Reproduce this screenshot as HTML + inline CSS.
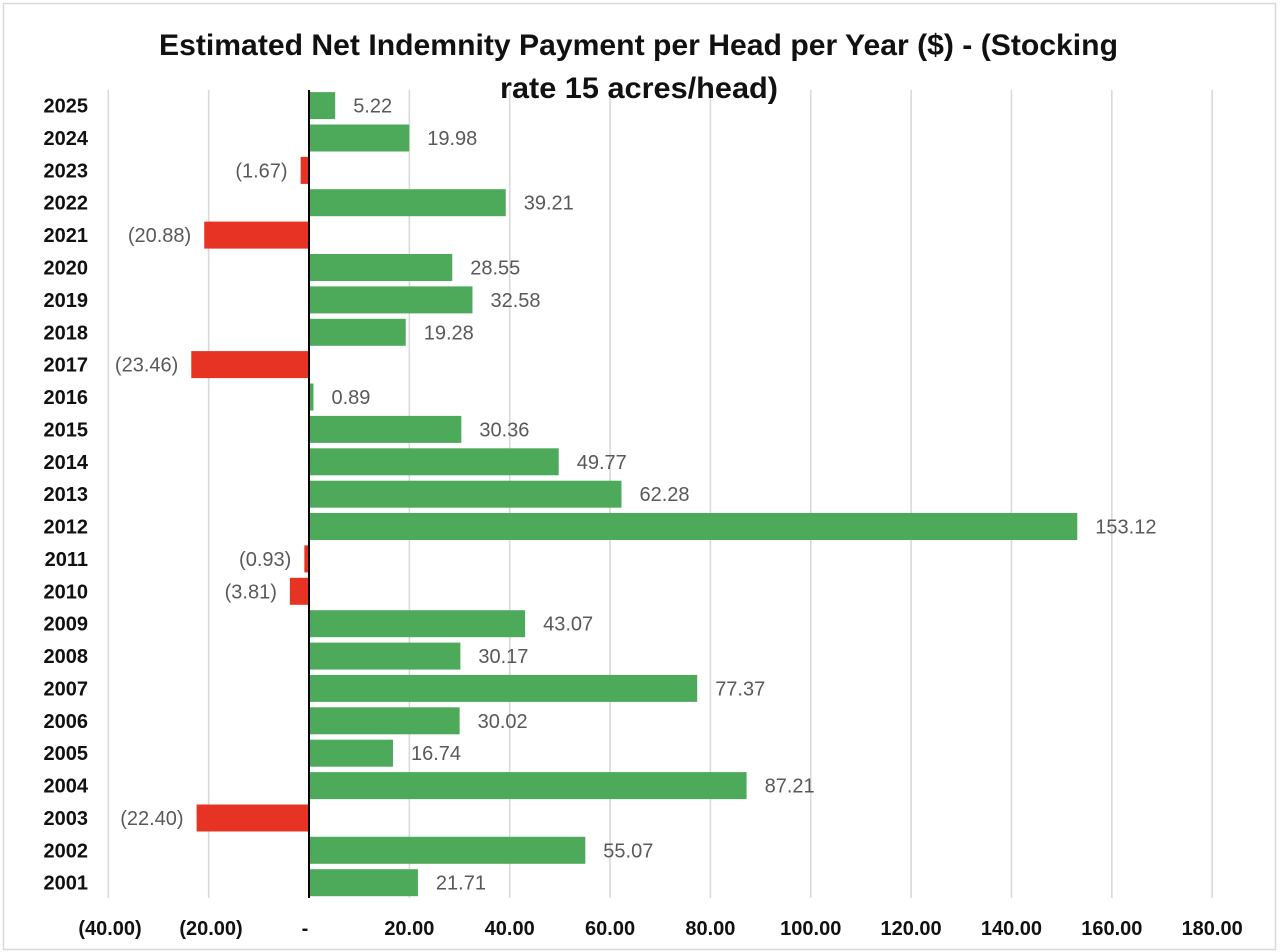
<!DOCTYPE html>
<html>
<head>
<meta charset="utf-8">
<style>
  html, body { margin: 0; padding: 0; background: #ffffff; }
  svg { display: block; }
</style>
</head>
<body>
<svg width="1284" height="952" viewBox="0 0 1284 952" xmlns="http://www.w3.org/2000/svg">
  <rect x="0" y="0" width="1284" height="952" fill="#ffffff"/>
  <rect x="3.5" y="3.5" width="1272" height="946" fill="#ffffff" stroke="#d9d9d9" stroke-width="1.5"/>

  <!-- Gridlines -->
  <g stroke="#d9d9d9" stroke-width="1.6">
    <line x1="108.3" y1="90" x2="108.3" y2="898"/>
    <line x1="208.65" y1="90" x2="208.65" y2="898"/>
    <line x1="409.35" y1="90" x2="409.35" y2="898"/>
    <line x1="509.7" y1="90" x2="509.7" y2="898"/>
    <line x1="610.05" y1="90" x2="610.05" y2="898"/>
    <line x1="710.4" y1="90" x2="710.4" y2="898"/>
    <line x1="810.75" y1="90" x2="810.75" y2="898"/>
    <line x1="911.1" y1="90" x2="911.1" y2="898"/>
    <line x1="1011.45" y1="90" x2="1011.45" y2="898"/>
    <line x1="1111.8" y1="90" x2="1111.8" y2="898"/>
    <line x1="1212.15" y1="90" x2="1212.15" y2="898"/>
  </g>

  <!-- Bars -->
  <g fill="#4eaa5b">
    <rect x="309" y="92.1" width="26.2" height="27"/>
    <rect x="309" y="124.5" width="100.25" height="27"/>
    <rect x="309" y="189.2" width="196.74" height="27"/>
    <rect x="309" y="254.0" width="143.25" height="27"/>
    <rect x="309" y="286.4" width="163.47" height="27"/>
    <rect x="309" y="318.8" width="96.74" height="27"/>
    <rect x="309" y="383.5" width="4.47" height="27"/>
    <rect x="309" y="415.9" width="152.33" height="27"/>
    <rect x="309" y="448.3" width="249.72" height="27"/>
    <rect x="309" y="480.7" width="312.49" height="27"/>
    <rect x="309" y="513.0" width="768.28" height="27"/>
    <rect x="309" y="610.2" width="216.1" height="27"/>
    <rect x="309" y="642.6" width="151.38" height="27"/>
    <rect x="309" y="674.9" width="388.2" height="27"/>
    <rect x="309" y="707.3" width="150.63" height="27"/>
    <rect x="309" y="739.7" width="83.99" height="27"/>
    <rect x="309" y="772.1" width="437.58" height="27"/>
    <rect x="309" y="836.8" width="276.31" height="27"/>
    <rect x="309" y="869.2" width="108.93" height="27"/>
  </g>
  <g fill="#e63323">
    <rect x="300.62" y="156.9" width="8.38" height="27"/>
    <rect x="204.23" y="221.6" width="104.77" height="27"/>
    <rect x="191.29" y="351.1" width="117.71" height="27"/>
    <rect x="304.33" y="545.4" width="4.67" height="27"/>
    <rect x="289.88" y="577.8" width="19.12" height="27"/>
    <rect x="196.61" y="804.5" width="112.39" height="27"/>
  </g>

  <!-- Zero axis -->
  <line x1="309" y1="90" x2="309" y2="898" stroke="#000000" stroke-width="2"/>

  <!-- Category labels -->
  <g font-family="'Liberation Sans', Arial, sans-serif" font-weight="bold" font-size="20" fill="#111111" text-anchor="end">
    <text x="88" y="112.6">2025</text>
    <text x="88" y="145">2024</text>
    <text x="88" y="177.4">2023</text>
    <text x="88" y="209.7">2022</text>
    <text x="88" y="242.1">2021</text>
    <text x="88" y="274.5">2020</text>
    <text x="88" y="306.9">2019</text>
    <text x="88" y="339.3">2018</text>
    <text x="88" y="371.6">2017</text>
    <text x="88" y="404">2016</text>
    <text x="88" y="436.4">2015</text>
    <text x="88" y="468.8">2014</text>
    <text x="88" y="501.2">2013</text>
    <text x="88" y="533.5">2012</text>
    <text x="88" y="565.9">2011</text>
    <text x="88" y="598.3">2010</text>
    <text x="88" y="630.7">2009</text>
    <text x="88" y="663.1">2008</text>
    <text x="88" y="695.4">2007</text>
    <text x="88" y="727.8">2006</text>
    <text x="88" y="760.2">2005</text>
    <text x="88" y="792.6">2004</text>
    <text x="88" y="825">2003</text>
    <text x="88" y="857.3">2002</text>
    <text x="88" y="889.7">2001</text>
  </g>

  <!-- Data labels -->
  <g font-family="'Liberation Sans', Arial, sans-serif" font-size="20" fill="#595959">
    <text x="353.2" y="112.6">5.22</text>
    <text x="427.25" y="145">19.98</text>
    <text x="523.74" y="209.7">39.21</text>
    <text x="470.25" y="274.5">28.55</text>
    <text x="490.47" y="306.9">32.58</text>
    <text x="423.74" y="339.3">19.28</text>
    <text x="331.47" y="404">0.89</text>
    <text x="479.33" y="436.4">30.36</text>
    <text x="576.72" y="468.8">49.77</text>
    <text x="639.49" y="501.2">62.28</text>
    <text x="1095.28" y="533.5">153.12</text>
    <text x="543.1" y="630.7">43.07</text>
    <text x="478.38" y="663.1">30.17</text>
    <text x="715.2" y="695.4">77.37</text>
    <text x="477.63" y="727.8">30.02</text>
    <text x="410.99" y="760.2">16.74</text>
    <text x="764.58" y="792.6">87.21</text>
    <text x="603.31" y="857.3">55.07</text>
    <text x="435.93" y="889.7">21.71</text>
  </g>
  <g font-family="'Liberation Sans', Arial, sans-serif" font-size="20" fill="#595959" text-anchor="end">
    <text x="287.6" y="177.4">(1.67)</text>
    <text x="191.2" y="242.1">(20.88)</text>
    <text x="178.3" y="371.6">(23.46)</text>
    <text x="291.3" y="565.9">(0.93)</text>
    <text x="276.9" y="598.3">(3.81)</text>
    <text x="183.6" y="825">(22.40)</text>
  </g>

  <!-- X axis labels -->
  <g font-family="'Liberation Sans', Arial, sans-serif" font-weight="bold" font-size="20" fill="#111111" text-anchor="middle">
    <text x="110" y="935">(40.00)</text>
    <text x="211" y="935">(20.00)</text>
    <text x="305" y="935">-</text>
    <text x="409.35" y="935">20.00</text>
    <text x="509.7" y="935">40.00</text>
    <text x="610.05" y="935">60.00</text>
    <text x="710.4" y="935">80.00</text>
    <text x="810.75" y="935">100.00</text>
    <text x="911.1" y="935">120.00</text>
    <text x="1011.45" y="935">140.00</text>
    <text x="1111.8" y="935">160.00</text>
    <text x="1212.15" y="935">180.00</text>
  </g>

  <!-- Title (drawn on top) -->
  <g font-family="'Liberation Sans', Arial, sans-serif" font-weight="bold" font-size="30" fill="#111111" text-anchor="middle">
    <text x="638.5" y="55" textLength="959" lengthAdjust="spacingAndGlyphs">Estimated Net Indemnity Payment per Head per Year  ($) - (Stocking</text>
    <text x="639" y="98" textLength="278" lengthAdjust="spacingAndGlyphs">rate 15 acres/head)</text>
  </g>
</svg>
</body>
</html>
